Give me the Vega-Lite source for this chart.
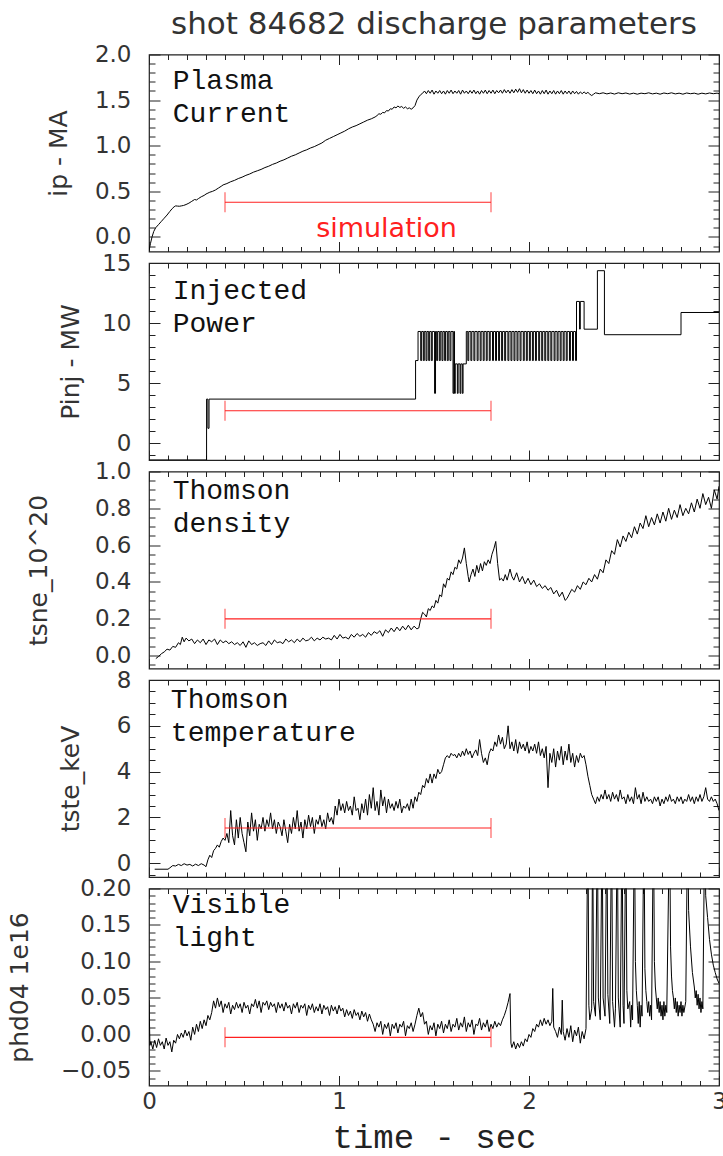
{
  "$schema": "https://vega.github.io/schema/vega-lite/v6.json",
  "background": "white",
  "padding": {"left": 6, "top": 7.5, "right": 0, "bottom": 0},
  "bounds": "flush",
  "spacing": 11.5,
  "config": {
    "view": {"stroke": "#222", "strokeWidth": 1.2},
    "axis": {
      "domain": false, "grid": false, "ticks": true, "tickColor": "#222", "tickWidth": 1,
      "labelFont": "DejaVu Sans", "labelFontSize": 23, "labelColor": "#333",
      "labelOverlap": false, "labelFlush": false, "labelBound": false, "labelPadding": 29,
      "titleFont": "DejaVu Sans", "titleFontSize": 25, "titleFontWeight": "normal", "titleColor": "#333"
    }
  },
  "datasets": {
    "ip": [
      {"t":0,"v":-0.15},{"t":0.008,"v":-0.07},{"t":0.016,"v":0.0},{"t":0.025,"v":0.06},{"t":0.035,"v":0.1},{"t":0.05,"v":0.135},{"t":0.065,"v":0.17},{"t":0.08,"v":0.205},{"t":0.095,"v":0.24},{"t":0.11,"v":0.28},{"t":0.122,"v":0.31},{"t":0.132,"v":0.33},{"t":0.14,"v":0.34},{"t":0.15,"v":0.338},{"t":0.16,"v":0.336},{"t":0.17,"v":0.34},{"t":0.182,"v":0.345},{"t":0.195,"v":0.355},{"t":0.21,"v":0.37},{"t":0.225,"v":0.39},{"t":0.24,"v":0.41},{"t":0.25,"v":0.405},{"t":0.26,"v":0.42},{"t":0.275,"v":0.44},{"t":0.29,"v":0.455},{"t":0.3,"v":0.47},{"t":0.31,"v":0.48},{"t":0.32,"v":0.49},{"t":0.335,"v":0.5},{"t":0.35,"v":0.515},{"t":0.365,"v":0.535},{"t":0.38,"v":0.555},{"t":0.39,"v":0.57},{"t":0.41,"v":0.585},{"t":0.43,"v":0.605},{"t":0.45,"v":0.62},{"t":0.47,"v":0.64},{"t":0.49,"v":0.655},{"t":0.51,"v":0.675},{"t":0.53,"v":0.69},{"t":0.55,"v":0.71},{"t":0.57,"v":0.725},{"t":0.59,"v":0.74},{"t":0.61,"v":0.76},{"t":0.63,"v":0.775},{"t":0.65,"v":0.795},{"t":0.67,"v":0.81},{"t":0.69,"v":0.83},{"t":0.71,"v":0.845},{"t":0.73,"v":0.865},{"t":0.75,"v":0.885},{"t":0.77,"v":0.9},{"t":0.79,"v":0.92},{"t":0.81,"v":0.94},{"t":0.83,"v":0.955},{"t":0.85,"v":0.975},{"t":0.87,"v":0.99},{"t":0.89,"v":1.01},{"t":0.91,"v":1.03},{"t":0.93,"v":1.06},{"t":0.95,"v":1.08},{"t":0.97,"v":1.1},{"t":0.99,"v":1.12},{"t":1.01,"v":1.14},{"t":1.03,"v":1.16},{"t":1.05,"v":1.185},{"t":1.07,"v":1.205},{"t":1.09,"v":1.22},{"t":1.11,"v":1.24},{"t":1.13,"v":1.26},{"t":1.15,"v":1.28},{"t":1.17,"v":1.295},{"t":1.19,"v":1.315},{"t":1.2,"v":1.33},{"t":1.21,"v":1.35},{"t":1.22,"v":1.345},{"t":1.23,"v":1.365},{"t":1.24,"v":1.36},{"t":1.25,"v":1.385},{"t":1.26,"v":1.38},{"t":1.27,"v":1.405},{"t":1.28,"v":1.4},{"t":1.29,"v":1.425},{"t":1.3,"v":1.415},{"t":1.31,"v":1.435},{"t":1.32,"v":1.42},{"t":1.33,"v":1.43},{"t":1.34,"v":1.41},{"t":1.35,"v":1.425},{"t":1.36,"v":1.405},{"t":1.37,"v":1.415},{"t":1.38,"v":1.4},{"t":1.39,"v":1.415},{"t":1.4,"v":1.44},{"t":1.41,"v":1.5},{"t":1.42,"v":1.535},{"t":1.43,"v":1.56},{"t":1.44,"v":1.575},
      {"t":1.45,"v":1.6},{"t":1.46,"v":1.57},{"t":1.47,"v":1.605},{"t":1.48,"v":1.575},{"t":1.49,"v":1.61},{"t":1.5,"v":1.565},{"t":1.51,"v":1.6},{"t":1.52,"v":1.575},{"t":1.53,"v":1.605},{"t":1.54,"v":1.57},{"t":1.55,"v":1.6},{"t":1.56,"v":1.565},{"t":1.57,"v":1.605},{"t":1.58,"v":1.575},{"t":1.59,"v":1.61},{"t":1.6,"v":1.57},{"t":1.61,"v":1.6},{"t":1.62,"v":1.575},{"t":1.63,"v":1.605},{"t":1.64,"v":1.565},{"t":1.65,"v":1.61},{"t":1.66,"v":1.575},{"t":1.67,"v":1.6},{"t":1.68,"v":1.57},{"t":1.69,"v":1.605},{"t":1.7,"v":1.575},{"t":1.71,"v":1.61},{"t":1.72,"v":1.57},{"t":1.73,"v":1.6},{"t":1.74,"v":1.565},{"t":1.75,"v":1.605},{"t":1.76,"v":1.575},{"t":1.77,"v":1.61},{"t":1.78,"v":1.57},{"t":1.79,"v":1.605},{"t":1.8,"v":1.575},{"t":1.81,"v":1.61},{"t":1.82,"v":1.57},{"t":1.83,"v":1.605},{"t":1.84,"v":1.58},{"t":1.85,"v":1.61},{"t":1.86,"v":1.575},{"t":1.87,"v":1.615},{"t":1.88,"v":1.58},{"t":1.89,"v":1.61},{"t":1.9,"v":1.575},{"t":1.91,"v":1.615},{"t":1.92,"v":1.58},{"t":1.93,"v":1.62},{"t":1.94,"v":1.585},{"t":1.95,"v":1.625},{"t":1.96,"v":1.58},{"t":1.97,"v":1.615},{"t":1.98,"v":1.575},{"t":1.99,"v":1.61},{"t":2.0,"v":1.575},{"t":2.01,"v":1.605},{"t":2.02,"v":1.57},{"t":2.03,"v":1.61},{"t":2.04,"v":1.57},{"t":2.05,"v":1.6},{"t":2.06,"v":1.565},{"t":2.07,"v":1.605},{"t":2.08,"v":1.57},{"t":2.09,"v":1.61},{"t":2.1,"v":1.565},{"t":2.11,"v":1.6},{"t":2.12,"v":1.57},{"t":2.13,"v":1.605},{"t":2.14,"v":1.565},{"t":2.15,"v":1.6},{"t":2.16,"v":1.57},{"t":2.17,"v":1.605},{"t":2.18,"v":1.565},{"t":2.19,"v":1.6},{"t":2.2,"v":1.57},{"t":2.21,"v":1.6},{"t":2.22,"v":1.565},{"t":2.23,"v":1.6},{"t":2.24,"v":1.57},{"t":2.25,"v":1.595},{"t":2.26,"v":1.565},{"t":2.27,"v":1.59},{"t":2.28,"v":1.57},{"t":2.29,"v":1.59},{"t":2.3,"v":1.57},{"t":2.31,"v":1.585},{"t":2.32,"v":1.565},{"t":2.33,"v":1.55},{"t":2.34,"v":1.565},{"t":2.35,"v":1.58},
      {"t":2.37,"v":1.57},{"t":2.39,"v":1.58},{"t":2.41,"v":1.568},{"t":2.43,"v":1.578},{"t":2.45,"v":1.566},{"t":2.47,"v":1.58},{"t":2.49,"v":1.57},{"t":2.51,"v":1.578},{"t":2.53,"v":1.566},{"t":2.55,"v":1.576},{"t":2.57,"v":1.565},{"t":2.59,"v":1.576},{"t":2.61,"v":1.57},{"t":2.63,"v":1.58},{"t":2.65,"v":1.568},{"t":2.67,"v":1.576},{"t":2.69,"v":1.565},{"t":2.71,"v":1.578},{"t":2.73,"v":1.57},{"t":2.75,"v":1.58},{"t":2.77,"v":1.568},{"t":2.79,"v":1.576},{"t":2.81,"v":1.565},{"t":2.83,"v":1.578},{"t":2.85,"v":1.57},{"t":2.87,"v":1.576},{"t":2.89,"v":1.565},{"t":2.91,"v":1.576},{"t":2.93,"v":1.568},{"t":2.95,"v":1.578},{"t":2.97,"v":1.57},{"t":2.99,"v":1.576},{"t":3.0,"v":1.57}
    ],
    "pinj": [
      {"t":0,"v":-1.4},{"t":0.303,"v":3.67},{"t":0.31,"v":1.24},{"t":0.316,"v":3.67},{"t":1.403,"v":6.88},{"t":1.416,"v":9.3},
      {"t":1.43,"v":6.88},{"t":1.435,"v":9.3},{"t":1.444,"v":6.88},{"t":1.449,"v":9.3},{"t":1.458,"v":6.88},{"t":1.463,"v":9.3},{"t":1.472,"v":6.88},{"t":1.477,"v":9.3},{"t":1.486,"v":6.88},{"t":1.491,"v":9.3},{"t":1.503,"v":4.15},{"t":1.508,"v":9.3},
      {"t":1.514,"v":6.88},{"t":1.519,"v":9.3},{"t":1.528,"v":6.88},{"t":1.533,"v":9.3},{"t":1.542,"v":6.88},{"t":1.547,"v":9.3},{"t":1.556,"v":6.88},{"t":1.561,"v":9.3},{"t":1.57,"v":6.88},{"t":1.575,"v":9.3},{"t":1.584,"v":6.88},{"t":1.589,"v":9.3},
      {"t":1.6,"v":4.15},{"t":1.604,"v":9.3},{"t":1.608,"v":4.15},{"t":1.612,"v":6.6},{"t":1.623,"v":4.15},{"t":1.627,"v":6.6},{"t":1.637,"v":4.15},{"t":1.641,"v":6.6},{"t":1.649,"v":4.15},{"t":1.653,"v":6.6},{"t":1.67,"v":9.3},
      {"t":1.678,"v":6.88},{"t":1.683,"v":9.3},{"t":1.694,"v":6.88},{"t":1.699,"v":9.3},{"t":1.71,"v":6.88},{"t":1.715,"v":9.3},{"t":1.727,"v":6.88},{"t":1.732,"v":9.3},{"t":1.743,"v":6.88},{"t":1.748,"v":9.3},{"t":1.759,"v":6.88},{"t":1.764,"v":9.3},{"t":1.775,"v":6.88},{"t":1.78,"v":9.3},{"t":1.791,"v":6.88},{"t":1.796,"v":9.3},{"t":1.808,"v":6.88},{"t":1.813,"v":9.3},{"t":1.824,"v":6.88},{"t":1.829,"v":9.3},{"t":1.84,"v":6.88},{"t":1.845,"v":9.3},{"t":1.856,"v":6.88},{"t":1.861,"v":9.3},{"t":1.872,"v":6.88},{"t":1.877,"v":9.3},{"t":1.889,"v":6.88},{"t":1.894,"v":9.3},{"t":1.905,"v":6.88},{"t":1.91,"v":9.3},{"t":1.921,"v":6.88},{"t":1.926,"v":9.3},{"t":1.937,"v":6.88},{"t":1.942,"v":9.3},{"t":1.953,"v":6.88},{"t":1.958,"v":9.3},{"t":1.97,"v":6.88},{"t":1.975,"v":9.3},{"t":1.986,"v":6.88},{"t":1.991,"v":9.3},{"t":2.002,"v":6.88},{"t":2.007,"v":9.3},{"t":2.018,"v":6.88},{"t":2.023,"v":9.3},{"t":2.034,"v":6.88},{"t":2.039,"v":9.3},{"t":2.051,"v":6.88},{"t":2.056,"v":9.3},{"t":2.067,"v":6.88},{"t":2.072,"v":9.3},{"t":2.083,"v":6.88},{"t":2.088,"v":9.3},{"t":2.099,"v":6.88},{"t":2.104,"v":9.3},{"t":2.115,"v":6.88},{"t":2.12,"v":9.3},{"t":2.132,"v":6.88},{"t":2.137,"v":9.3},{"t":2.148,"v":6.88},{"t":2.153,"v":9.3},{"t":2.164,"v":6.88},{"t":2.169,"v":9.3},{"t":2.18,"v":6.88},{"t":2.185,"v":9.3},{"t":2.196,"v":6.88},{"t":2.201,"v":9.3},{"t":2.213,"v":6.88},{"t":2.218,"v":9.3},{"t":2.229,"v":6.88},{"t":2.234,"v":9.3},{"t":2.245,"v":6.88},{"t":2.25,"v":11.8},
      {"t":2.266,"v":9.5},{"t":2.27,"v":11.8},{"t":2.29,"v":9.49},{"t":2.36,"v":14.36},{"t":2.397,"v":9.03},{"t":2.8,"v":10.88},{"t":3.0,"v":10.88}
    ],
    "ne": [
      {"t":0.036,"v":-0.016},{"t":0.05,"v":-0.005},{"t":0.065,"v":0.01},{"t":0.08,"v":0.02},{"t":0.095,"v":0.035},{"t":0.11,"v":0.03},{"t":0.125,"v":0.05},{"t":0.14,"v":0.045},{"t":0.155,"v":0.07},{"t":0.165,"v":0.06},{"t":0.175,"v":0.1},{"t":0.185,"v":0.075},{"t":0.195,"v":0.095},{"t":0.21,"v":0.08},{"t":0.225,"v":0.09},{"t":0.24,"v":0.065},{"t":0.255,"v":0.085},{"t":0.27,"v":0.07},{"t":0.285,"v":0.09},{"t":0.3,"v":0.06},{"t":0.315,"v":0.085},{"t":0.33,"v":0.075},{"t":0.345,"v":0.09},{"t":0.36,"v":0.06},{"t":0.375,"v":0.085},{"t":0.39,"v":0.07},{"t":0.405,"v":0.08},{"t":0.42,"v":0.065},{"t":0.435,"v":0.075},{"t":0.45,"v":0.06},{"t":0.465,"v":0.07},{"t":0.48,"v":0.055},{"t":0.495,"v":0.075},{"t":0.51,"v":0.045},{"t":0.525,"v":0.08},{"t":0.54,"v":0.06},{"t":0.555,"v":0.07},{"t":0.57,"v":0.055},{"t":0.585,"v":0.065},{"t":0.6,"v":0.07},{"t":0.615,"v":0.055},{"t":0.63,"v":0.08},{"t":0.645,"v":0.06},{"t":0.66,"v":0.085},{"t":0.675,"v":0.07},{"t":0.69,"v":0.075},{"t":0.705,"v":0.065},{"t":0.72,"v":0.09},{"t":0.735,"v":0.075},{"t":0.75,"v":0.085},{"t":0.765,"v":0.07},{"t":0.78,"v":0.09},{"t":0.795,"v":0.075},{"t":0.81,"v":0.095},{"t":0.825,"v":0.08},{"t":0.84,"v":0.085},{"t":0.855,"v":0.1},{"t":0.87,"v":0.08},{"t":0.885,"v":0.095},{"t":0.9,"v":0.085},{"t":0.915,"v":0.1},{"t":0.93,"v":0.09},{"t":0.945,"v":0.095},{"t":0.96,"v":0.085},{"t":0.975,"v":0.11},{"t":0.99,"v":0.09},{"t":1.005,"v":0.115},{"t":1.02,"v":0.095},{"t":1.035,"v":0.1},{"t":1.05,"v":0.09},{"t":1.065,"v":0.115},{"t":1.08,"v":0.1},{"t":1.095,"v":0.12},{"t":1.11,"v":0.105},{"t":1.125,"v":0.115},{"t":1.14,"v":0.1},{"t":1.155,"v":0.125},{"t":1.17,"v":0.11},{"t":1.185,"v":0.13},{"t":1.2,"v":0.12},{"t":1.215,"v":0.135},{"t":1.23,"v":0.105},{"t":1.245,"v":0.14},{"t":1.26,"v":0.125},{"t":1.275,"v":0.15},{"t":1.29,"v":0.13},{"t":1.305,"v":0.155},{"t":1.32,"v":0.135},{"t":1.335,"v":0.16},{"t":1.35,"v":0.14},{"t":1.365,"v":0.165},{"t":1.38,"v":0.14},{"t":1.395,"v":0.16},{"t":1.41,"v":0.145},{"t":1.42,"v":0.15},
      {"t":1.43,"v":0.2},{"t":1.44,"v":0.235},{"t":1.45,"v":0.225},{"t":1.46,"v":0.21},{"t":1.47,"v":0.255},{"t":1.48,"v":0.245},{"t":1.49,"v":0.27},{"t":1.5,"v":0.26},{"t":1.51,"v":0.3},{"t":1.52,"v":0.285},{"t":1.53,"v":0.33},{"t":1.54,"v":0.32},{"t":1.55,"v":0.39},{"t":1.56,"v":0.37},{"t":1.57,"v":0.42},{"t":1.58,"v":0.41},{"t":1.59,"v":0.455},{"t":1.6,"v":0.44},{"t":1.61,"v":0.48},{"t":1.62,"v":0.47},{"t":1.63,"v":0.52},{"t":1.64,"v":0.5},{"t":1.65,"v":0.53},{"t":1.66,"v":0.585},{"t":1.67,"v":0.5},{"t":1.68,"v":0.43},{"t":1.685,"v":0.4},{"t":1.695,"v":0.44},{"t":1.705,"v":0.47},{"t":1.715,"v":0.43},{"t":1.725,"v":0.49},{"t":1.735,"v":0.45},{"t":1.745,"v":0.5},{"t":1.755,"v":0.46},{"t":1.765,"v":0.51},{"t":1.775,"v":0.49},{"t":1.785,"v":0.52},{"t":1.795,"v":0.5},{"t":1.805,"v":0.55},{"t":1.815,"v":0.58},{"t":1.825,"v":0.62},{"t":1.835,"v":0.5},{"t":1.845,"v":0.41},{"t":1.855,"v":0.42},{"t":1.865,"v":0.405},{"t":1.875,"v":0.44},{"t":1.885,"v":0.41},{"t":1.9,"v":0.47},{"t":1.91,"v":0.43},{"t":1.92,"v":0.41},{"t":1.935,"v":0.45},{"t":1.95,"v":0.4},{"t":1.965,"v":0.43},{"t":1.98,"v":0.39},{"t":1.995,"v":0.42},{"t":2.01,"v":0.385},{"t":2.025,"v":0.41},{"t":2.04,"v":0.375},{"t":2.055,"v":0.39},{"t":2.07,"v":0.365},{"t":2.085,"v":0.38},{"t":2.1,"v":0.355},{"t":2.115,"v":0.37},{"t":2.13,"v":0.335},{"t":2.145,"v":0.355},{"t":2.16,"v":0.32},{"t":2.175,"v":0.345},{"t":2.19,"v":0.3},{"t":2.2,"v":0.31},{"t":2.21,"v":0.33},{"t":2.225,"v":0.36},{"t":2.24,"v":0.345},{"t":2.255,"v":0.38},{"t":2.27,"v":0.36},{"t":2.285,"v":0.4},{"t":2.3,"v":0.385},{"t":2.315,"v":0.42},{"t":2.33,"v":0.4},{"t":2.345,"v":0.44},{"t":2.36,"v":0.415},{"t":2.375,"v":0.47},{"t":2.39,"v":0.45},{"t":2.405,"v":0.52},{"t":2.42,"v":0.5},{"t":2.435,"v":0.57},{"t":2.45,"v":0.55},{"t":2.465,"v":0.63},{"t":2.48,"v":0.59},{"t":2.495,"v":0.65},{"t":2.51,"v":0.62},{"t":2.525,"v":0.67},{"t":2.54,"v":0.64},{"t":2.555,"v":0.7},{"t":2.57,"v":0.66},{"t":2.585,"v":0.72},{"t":2.6,"v":0.69},{"t":2.615,"v":0.76},{"t":2.63,"v":0.7},{"t":2.645,"v":0.75},{"t":2.66,"v":0.71},{"t":2.675,"v":0.77},{"t":2.69,"v":0.72},{"t":2.705,"v":0.78},{"t":2.72,"v":0.73},{"t":2.735,"v":0.8},{"t":2.75,"v":0.74},{"t":2.765,"v":0.79},{"t":2.78,"v":0.75},{"t":2.795,"v":0.82},{"t":2.81,"v":0.76},{"t":2.825,"v":0.8},{"t":2.84,"v":0.77},{"t":2.855,"v":0.83},{"t":2.87,"v":0.78},{"t":2.885,"v":0.85},{"t":2.9,"v":0.8},{"t":2.915,"v":0.88},{"t":2.93,"v":0.82},{"t":2.945,"v":0.86},{"t":2.96,"v":0.8},{"t":2.975,"v":0.9},{"t":2.99,"v":0.85},{"t":3.0,"v":0.92}
    ],
    "te": [
      {"t":0.03,"v":-0.26},{"t":0.1,"v":-0.26},{"t":0.11,"v":-0.2},{"t":0.125,"v":-0.1},{"t":0.14,"v":-0.12},{"t":0.155,"v":-0.05},{"t":0.17,"v":-0.1},{"t":0.185,"v":-0.02},{"t":0.2,"v":-0.08},{"t":0.215,"v":-0.05},{"t":0.23,"v":-0.12},{"t":0.245,"v":-0.04},{"t":0.26,"v":-0.1},{"t":0.275,"v":-0.02},{"t":0.29,"v":-0.08},{"t":0.3,"v":-0.15},{"t":0.31,"v":0.15},{"t":0.32,"v":0.35},{"t":0.33,"v":0.25},{"t":0.34,"v":0.55},{"t":0.35,"v":0.65},{"t":0.36,"v":0.8},{"t":0.37,"v":0.7},{"t":0.38,"v":0.95},{"t":0.39,"v":1.1},{"t":0.4,"v":1.0},{"t":0.41,"v":1.3},{"t":0.42,"v":0.9},{"t":0.43,"v":2.3},{"t":0.44,"v":1.2},{"t":0.45,"v":0.8},{"t":0.46,"v":1.9},{"t":0.47,"v":1.1},{"t":0.48,"v":2.0},{"t":0.49,"v":1.3},{"t":0.5,"v":0.9},{"t":0.51,"v":0.5},{"t":0.52,"v":1.8},{"t":0.53,"v":1.2},{"t":0.54,"v":2.2},{"t":0.55,"v":1.4},{"t":0.56,"v":1.9},{"t":0.57,"v":1.0},{"t":0.58,"v":1.7},{"t":0.59,"v":1.5},{"t":0.6,"v":2.0},{"t":0.61,"v":1.4},{"t":0.62,"v":1.9},{"t":0.63,"v":1.6},{"t":0.64,"v":2.2},{"t":0.65,"v":1.5},{"t":0.66,"v":1.9},{"t":0.67,"v":1.3},{"t":0.68,"v":1.8},{"t":0.69,"v":1.6},{"t":0.7,"v":1.2},{"t":0.71,"v":1.9},{"t":0.72,"v":1.4},{"t":0.73,"v":0.9},{"t":0.74,"v":1.7},{"t":0.75,"v":1.3},{"t":0.76,"v":2.0},{"t":0.77,"v":1.5},{"t":0.78,"v":2.3},{"t":0.79,"v":1.4},{"t":0.8,"v":1.8},{"t":0.81,"v":1.1},{"t":0.82,"v":1.9},{"t":0.83,"v":1.5},{"t":0.84,"v":2.1},{"t":0.85,"v":1.6},{"t":0.86,"v":2.0},{"t":0.87,"v":1.3},{"t":0.88,"v":1.9},{"t":0.89,"v":1.7},{"t":0.9,"v":2.1},{"t":0.91,"v":1.6},{"t":0.92,"v":1.9},{"t":0.93,"v":1.5},{"t":0.94,"v":2.2},{"t":0.95,"v":1.8},{"t":0.96,"v":2.0},{"t":0.97,"v":1.7},{"t":0.98,"v":2.5},{"t":0.99,"v":2.1},{"t":1.0,"v":2.8},{"t":1.01,"v":2.3},{"t":1.02,"v":2.6},{"t":1.03,"v":2.2},{"t":1.04,"v":2.7},{"t":1.05,"v":2.3},{"t":1.06,"v":2.5},{"t":1.07,"v":2.1},{"t":1.08,"v":2.9},{"t":1.09,"v":2.3},{"t":1.1,"v":2.4},{"t":1.11,"v":1.9},{"t":1.12,"v":2.6},{"t":1.13,"v":2.2},{"t":1.14,"v":2.8},{"t":1.15,"v":2.1},{"t":1.16,"v":3.0},{"t":1.17,"v":2.4},{"t":1.18,"v":3.3},{"t":1.19,"v":2.3},{"t":1.2,"v":2.7},{"t":1.21,"v":2.1},{"t":1.22,"v":3.2},{"t":1.23,"v":2.5},{"t":1.24,"v":2.9},{"t":1.25,"v":2.2},{"t":1.26,"v":2.8},{"t":1.27,"v":2.4},{"t":1.28,"v":2.6},{"t":1.29,"v":2.3},{"t":1.3,"v":2.7},{"t":1.31,"v":2.4},{"t":1.32,"v":2.8},{"t":1.33,"v":2.2},{"t":1.34,"v":2.5},{"t":1.35,"v":2.4},{"t":1.36,"v":2.6},{"t":1.37,"v":2.3},{"t":1.38,"v":2.8},{"t":1.39,"v":2.4},{"t":1.4,"v":2.9},{"t":1.41,"v":2.7},{"t":1.42,"v":3.1},{"t":1.43,"v":3.0},{"t":1.44,"v":3.4},{"t":1.45,"v":3.3},{"t":1.46,"v":3.7},{"t":1.47,"v":3.5},{"t":1.48,"v":3.9},{"t":1.49,"v":3.5},{"t":1.5,"v":3.9},{"t":1.51,"v":3.7},{"t":1.52,"v":4.1},{"t":1.53,"v":3.9},{"t":1.54,"v":4.0},{"t":1.55,"v":4.3},{"t":1.56,"v":4.6},{"t":1.57,"v":4.7},{"t":1.58,"v":4.6},{"t":1.59,"v":4.8},{"t":1.6,"v":4.7},{"t":1.61,"v":4.75},{"t":1.62,"v":4.6},{"t":1.63,"v":4.8},{"t":1.64,"v":4.65},{"t":1.65,"v":4.9},{"t":1.66,"v":4.7},{"t":1.67,"v":5.0},{"t":1.68,"v":4.75},{"t":1.69,"v":4.9},{"t":1.7,"v":4.6},{"t":1.71,"v":4.8},{"t":1.72,"v":4.95},{"t":1.73,"v":4.7},{"t":1.74,"v":5.4},{"t":1.75,"v":4.8},{"t":1.76,"v":4.4},{"t":1.77,"v":4.6},{"t":1.78,"v":4.3},{"t":1.79,"v":4.8},{"t":1.8,"v":5.0},{"t":1.81,"v":4.9},{"t":1.82,"v":5.3},{"t":1.83,"v":5.1},{"t":1.84,"v":5.6},{"t":1.85,"v":5.2},{"t":1.86,"v":5.5},{"t":1.87,"v":5.0},{"t":1.88,"v":5.2},{"t":1.89,"v":6.0},{"t":1.9,"v":5.0},{"t":1.91,"v":5.3},{"t":1.92,"v":4.9},{"t":1.93,"v":5.4},{"t":1.94,"v":4.8},{"t":1.95,"v":5.3},{"t":1.96,"v":5.0},{"t":1.97,"v":5.2},{"t":1.98,"v":4.9},{"t":1.99,"v":5.3},{"t":2.0,"v":4.8},{"t":2.01,"v":5.1},{"t":2.02,"v":4.9},{"t":2.03,"v":5.2},{"t":2.04,"v":4.8},{"t":2.05,"v":5.3},{"t":2.06,"v":4.7},{"t":2.07,"v":5.0},{"t":2.08,"v":4.6},{"t":2.09,"v":5.1},{"t":2.1,"v":3.3},{"t":2.11,"v":4.8},{"t":2.12,"v":4.4},{"t":2.13,"v":5.0},{"t":2.14,"v":4.2},{"t":2.15,"v":4.9},{"t":2.16,"v":4.5},{"t":2.17,"v":5.1},{"t":2.18,"v":4.3},{"t":2.19,"v":4.9},{"t":2.2,"v":4.5},{"t":2.21,"v":5.2},{"t":2.22,"v":4.4},{"t":2.23,"v":4.8},{"t":2.24,"v":4.2},{"t":2.25,"v":4.7},{"t":2.26,"v":4.4},{"t":2.27,"v":4.8},{"t":2.28,"v":4.6},{"t":2.29,"v":4.7},{"t":2.3,"v":4.3},{"t":2.31,"v":3.8},{"t":2.32,"v":3.4},{"t":2.33,"v":3.0},{"t":2.34,"v":2.8},{"t":2.35,"v":2.6},{"t":2.36,"v":2.9},{"t":2.37,"v":2.7},{"t":2.38,"v":3.0},{"t":2.39,"v":2.8},{"t":2.4,"v":3.2},{"t":2.41,"v":2.8},{"t":2.42,"v":3.0},{"t":2.43,"v":2.7},{"t":2.44,"v":3.1},{"t":2.45,"v":2.8},{"t":2.46,"v":3.0},{"t":2.47,"v":2.7},{"t":2.48,"v":3.2},{"t":2.49,"v":2.8},{"t":2.5,"v":2.9},{"t":2.51,"v":2.6},{"t":2.52,"v":3.0},{"t":2.53,"v":2.7},{"t":2.54,"v":2.9},{"t":2.55,"v":2.6},{"t":2.56,"v":3.3},{"t":2.57,"v":2.8},{"t":2.58,"v":3.0},{"t":2.59,"v":2.6},{"t":2.6,"v":3.1},{"t":2.61,"v":2.7},{"t":2.62,"v":2.9},{"t":2.63,"v":2.7},{"t":2.64,"v":2.8},{"t":2.65,"v":2.6},{"t":2.66,"v":2.9},{"t":2.67,"v":2.7},{"t":2.68,"v":2.9},{"t":2.69,"v":2.5},{"t":2.7,"v":2.8},{"t":2.71,"v":2.6},{"t":2.72,"v":2.9},{"t":2.73,"v":2.7},{"t":2.74,"v":3.0},{"t":2.75,"v":2.7},{"t":2.76,"v":2.8},{"t":2.77,"v":2.6},{"t":2.78,"v":2.9},{"t":2.79,"v":2.7},{"t":2.8,"v":2.9},{"t":2.81,"v":2.6},{"t":2.82,"v":2.8},{"t":2.83,"v":2.7},{"t":2.84,"v":3.0},{"t":2.85,"v":2.7},{"t":2.86,"v":2.9},{"t":2.87,"v":2.6},{"t":2.88,"v":2.9},{"t":2.89,"v":2.7},{"t":2.9,"v":3.0},{"t":2.91,"v":2.7},{"t":2.92,"v":2.9},{"t":2.93,"v":3.3},{"t":2.94,"v":2.8},{"t":2.95,"v":2.7},{"t":2.96,"v":2.9},{"t":2.97,"v":2.7},{"t":2.98,"v":2.8},{"t":2.99,"v":2.6},{"t":3.0,"v":2.3}
    ],
    "vis": [
      {"t":0,"v":0.047},{"t":0.005,"v":-0.015},{"t":0.01,"v":-0.01},{"t":0.02,"v":-0.02},{"t":0.03,"v":-0.008},{"t":0.04,"v":-0.018},{"t":0.05,"v":-0.006},{"t":0.06,"v":-0.015},{"t":0.07,"v":-0.01},{"t":0.08,"v":-0.02},{"t":0.09,"v":-0.005},{"t":0.1,"v":-0.015},{"t":0.11,"v":-0.01},{"t":0.12,"v":-0.024},{"t":0.13,"v":-0.008},{"t":0.14,"v":-0.012},{"t":0.15,"v":0.0},{"t":0.16,"v":-0.006},{"t":0.17,"v":0.002},{"t":0.18,"v":-0.004},{"t":0.19,"v":0.006},{"t":0.2,"v":-0.002},{"t":0.21,"v":0.004},{"t":0.22,"v":-0.008},{"t":0.23,"v":0.01},{"t":0.24,"v":0.0},{"t":0.25,"v":0.014},{"t":0.26,"v":0.004},{"t":0.27,"v":0.018},{"t":0.28,"v":0.008},{"t":0.29,"v":0.02},{"t":0.3,"v":0.012},{"t":0.31,"v":0.026},{"t":0.32,"v":0.02},{"t":0.33,"v":0.03},{"t":0.34,"v":0.046},{"t":0.35,"v":0.036},{"t":0.36,"v":0.05},{"t":0.37,"v":0.038},{"t":0.38,"v":0.046},{"t":0.39,"v":0.03},{"t":0.4,"v":0.042},{"t":0.41,"v":0.036},{"t":0.42,"v":0.044},{"t":0.43,"v":0.028},{"t":0.44,"v":0.04},{"t":0.45,"v":0.034},{"t":0.46,"v":0.044},{"t":0.47,"v":0.036},{"t":0.48,"v":0.042},{"t":0.49,"v":0.03},{"t":0.5,"v":0.044},{"t":0.51,"v":0.036},{"t":0.52,"v":0.04},{"t":0.53,"v":0.028},{"t":0.54,"v":0.042},{"t":0.55,"v":0.038},{"t":0.56,"v":0.048},{"t":0.57,"v":0.036},{"t":0.58,"v":0.046},{"t":0.59,"v":0.03},{"t":0.6,"v":0.044},{"t":0.61,"v":0.04},{"t":0.62,"v":0.046},{"t":0.63,"v":0.034},{"t":0.64,"v":0.044},{"t":0.65,"v":0.038},{"t":0.66,"v":0.042},{"t":0.67,"v":0.03},{"t":0.68,"v":0.044},{"t":0.69,"v":0.036},{"t":0.7,"v":0.042},{"t":0.71,"v":0.032},{"t":0.72,"v":0.044},{"t":0.73,"v":0.036},{"t":0.74,"v":0.04},{"t":0.75,"v":0.028},{"t":0.76,"v":0.042},{"t":0.77,"v":0.036},{"t":0.78,"v":0.044},{"t":0.79,"v":0.03},{"t":0.8,"v":0.04},{"t":0.81,"v":0.036},{"t":0.82,"v":0.042},{"t":0.83,"v":0.026},{"t":0.84,"v":0.04},{"t":0.85,"v":0.034},{"t":0.86,"v":0.042},{"t":0.87,"v":0.03},{"t":0.88,"v":0.038},{"t":0.89,"v":0.032},{"t":0.9,"v":0.042},{"t":0.91,"v":0.028},{"t":0.92,"v":0.04},{"t":0.93,"v":0.034},{"t":0.94,"v":0.038},{"t":0.95,"v":0.026},{"t":0.96,"v":0.04},{"t":0.97,"v":0.032},{"t":0.98,"v":0.038},{"t":0.99,"v":0.028},{"t":1.0,"v":0.04},{"t":1.01,"v":0.032},{"t":1.02,"v":0.036},{"t":1.03,"v":0.024},{"t":1.04,"v":0.034},{"t":1.05,"v":0.026},{"t":1.06,"v":0.032},{"t":1.07,"v":0.022},{"t":1.08,"v":0.034},{"t":1.09,"v":0.026},{"t":1.1,"v":0.03},{"t":1.11,"v":0.02},{"t":1.12,"v":0.032},{"t":1.13,"v":0.024},{"t":1.14,"v":0.03},{"t":1.15,"v":0.018},{"t":1.16,"v":0.028},{"t":1.17,"v":0.02},{"t":1.18,"v":0.014},{"t":1.19,"v":0.004},{"t":1.2,"v":0.016},{"t":1.21,"v":0.01},{"t":1.22,"v":0.018},{"t":1.23,"v":0.0},{"t":1.24,"v":0.014},{"t":1.25,"v":0.008},{"t":1.26,"v":0.016},{"t":1.27,"v":-0.002},{"t":1.28,"v":0.014},{"t":1.29,"v":0.008},{"t":1.3,"v":0.016},{"t":1.31,"v":0.002},{"t":1.32,"v":0.014},{"t":1.33,"v":0.01},{"t":1.34,"v":0.018},{"t":1.35,"v":-0.002},{"t":1.36,"v":0.012},{"t":1.37,"v":0.008},{"t":1.38,"v":0.016},{"t":1.39,"v":0.004},{"t":1.4,"v":0.014},{"t":1.41,"v":0.026},{"t":1.42,"v":0.036},{"t":1.43,"v":0.024},{"t":1.44,"v":0.03},{"t":1.45,"v":0.014},{"t":1.46,"v":0.018},{"t":1.47,"v":0.0},{"t":1.48,"v":0.012},{"t":1.49,"v":0.006},{"t":1.5,"v":0.016},{"t":1.51,"v":-0.002},{"t":1.52,"v":0.014},{"t":1.53,"v":0.008},{"t":1.54,"v":0.018},{"t":1.55,"v":0.002},{"t":1.56,"v":0.014},{"t":1.57,"v":0.008},{"t":1.58,"v":0.02},{"t":1.59,"v":0.004},{"t":1.6,"v":0.014},{"t":1.61,"v":0.01},{"t":1.62,"v":0.022},{"t":1.63,"v":0.006},{"t":1.64,"v":0.016},{"t":1.65,"v":0.01},{"t":1.66,"v":0.024},{"t":1.67,"v":0.004},{"t":1.68,"v":0.016},{"t":1.69,"v":0.01},{"t":1.7,"v":0.02},{"t":1.71,"v":0.0},{"t":1.72,"v":0.014},{"t":1.73,"v":0.012},{"t":1.74,"v":0.022},{"t":1.75,"v":0.006},{"t":1.76,"v":0.016},{"t":1.77,"v":0.01},{"t":1.78,"v":0.02},{"t":1.79,"v":0.004},{"t":1.8,"v":0.014},{"t":1.81,"v":0.008},{"t":1.82,"v":0.018},{"t":1.83,"v":0.01},{"t":1.84,"v":0.016},{"t":1.85,"v":0.012},{"t":1.86,"v":0.02},{"t":1.87,"v":0.026},{"t":1.88,"v":0.034},{"t":1.89,"v":0.044},{"t":1.9,"v":0.056},{"t":1.905,"v":-0.012},{"t":1.91,"v":-0.018},{"t":1.92,"v":-0.01},{"t":1.93,"v":-0.02},{"t":1.94,"v":-0.012},{"t":1.95,"v":-0.018},{"t":1.96,"v":-0.01},{"t":1.97,"v":-0.016},{"t":1.98,"v":-0.006},{"t":1.99,"v":-0.01},{"t":2.0,"v":0.0},{"t":2.01,"v":-0.004},{"t":2.02,"v":0.008},{"t":2.03,"v":0.004},{"t":2.04,"v":0.014},{"t":2.05,"v":0.01},{"t":2.06,"v":0.02},{"t":2.07,"v":0.012},{"t":2.08,"v":0.022},{"t":2.09,"v":0.014},{"t":2.1,"v":0.02},{"t":2.11,"v":0.012},{"t":2.12,"v":0.018},{"t":2.125,"v":0.063},{"t":2.13,"v":0.01},{"t":2.14,"v":0.004},{"t":2.15,"v":-0.004},{"t":2.16,"v":0.01},{"t":2.17,"v":0.0},{"t":2.175,"v":0.047},{"t":2.18,"v":0.004},{"t":2.19,"v":-0.008},{"t":2.2,"v":0.008},{"t":2.21,"v":-0.004},{"t":2.22,"v":0.012},{"t":2.23,"v":-0.01},{"t":2.24,"v":0.006},{"t":2.25,"v":-0.002},{"t":2.26,"v":0.01},{"t":2.27,"v":-0.012},{"t":2.28,"v":0.004},{"t":2.29,"v":-0.006},{"t":2.3,"v":0.008},
      {"t":2.31,"v":0.3},{"t":2.315,"v":0.04},{"t":2.32,"v":0.02},{"t":2.33,"v":0.035},{"t":2.335,"v":0.3},{"t":2.34,"v":0.045},{"t":2.35,"v":0.025},{"t":2.36,"v":0.3},{"t":2.365,"v":0.05},{"t":2.375,"v":0.02},{"t":2.385,"v":0.3},{"t":2.39,"v":0.05},{"t":2.4,"v":0.025},{"t":2.41,"v":0.3},{"t":2.415,"v":0.055},{"t":2.425,"v":0.015},{"t":2.435,"v":0.3},{"t":2.44,"v":0.045},{"t":2.45,"v":0.01},{"t":2.455,"v":0.035},{"t":2.465,"v":0.3},{"t":2.47,"v":0.05},{"t":2.48,"v":0.01},{"t":2.49,"v":0.3},{"t":2.495,"v":0.04},{"t":2.5,"v":0.015},{"t":2.51,"v":0.3},{"t":2.515,"v":0.06},{"t":2.52,"v":0.035},{"t":2.53,"v":0.045},{"t":2.535,"v":0.01},{"t":2.54,"v":0.04},{"t":2.545,"v":0.02},{"t":2.555,"v":0.3},{"t":2.56,"v":0.1},{"t":2.565,"v":0.06},{"t":2.57,"v":0.04},{"t":2.575,"v":0.015},{"t":2.58,"v":0.045},{"t":2.585,"v":0.01},{"t":2.59,"v":0.04},{"t":2.595,"v":0.025},{"t":2.605,"v":0.3},{"t":2.61,"v":0.09},{"t":2.615,"v":0.06},{"t":2.62,"v":0.045},{"t":2.625,"v":0.03},{"t":2.63,"v":0.045},{"t":2.635,"v":0.025},{"t":2.64,"v":0.04},{"t":2.645,"v":0.02},{"t":2.655,"v":0.3},{"t":2.66,"v":0.1},{"t":2.665,"v":0.065},{"t":2.67,"v":0.05},{"t":2.675,"v":0.035},{"t":2.68,"v":0.05},{"t":2.685,"v":0.03},{"t":2.69,"v":0.045},{"t":2.695,"v":0.025},{"t":2.7,"v":0.04},{"t":2.705,"v":0.02},{"t":2.71,"v":0.045},{"t":2.715,"v":0.025},{"t":2.72,"v":0.04},{"t":2.725,"v":0.03},{"t":2.74,"v":0.3},{"t":2.745,"v":0.12},{"t":2.75,"v":0.08},{"t":2.755,"v":0.06},{"t":2.76,"v":0.05},{"t":2.765,"v":0.035},{"t":2.77,"v":0.05},{"t":2.775,"v":0.03},{"t":2.78,"v":0.045},{"t":2.785,"v":0.025},{"t":2.79,"v":0.04},{"t":2.795,"v":0.03},{"t":2.8,"v":0.045},{"t":2.805,"v":0.025},{"t":2.81,"v":0.04},{"t":2.815,"v":0.03},{"t":2.825,"v":0.045},{"t":2.835,"v":0.3},{"t":2.84,"v":0.17},{"t":2.85,"v":0.12},{"t":2.86,"v":0.085},{"t":2.87,"v":0.065},{"t":2.875,"v":0.05},{"t":2.88,"v":0.06},{"t":2.885,"v":0.04},{"t":2.89,"v":0.055},{"t":2.895,"v":0.035},{"t":2.9,"v":0.05},{"t":2.905,"v":0.03},{"t":2.91,"v":0.045},{"t":2.915,"v":0.035},{"t":2.925,"v":0.3},{"t":2.93,"v":0.19},{"t":2.94,"v":0.16},{"t":2.95,"v":0.13},{"t":2.96,"v":0.11},{"t":2.97,"v":0.095},{"t":2.98,"v":0.085},{"t":2.99,"v":0.076},{"t":3.0,"v":0.07}
    ]
  },
  "vconcat": [
    {
      "width": 570, "height": 197,
      "title": {"text": "shot 84682 discharge parameters", "font": "DejaVu Sans", "fontSize": 31, "fontWeight": "normal", "color": "#333", "anchor": "middle", "frame": "group", "baseline": "alphabetic", "offset": -21},
      "resolve": {"axis": {"x": "independent", "y": "independent"}},
      "layer": [
        {"data": {"name": "ip"}, "mark": {"type": "line", "clip": true, "color": "#000", "strokeWidth": 1},
         "encoding": {
           "x": {"field": "t", "type": "quantitative", "scale": {"domain": [0, 3], "nice": false, "zero": false},
                 "axis": {"orient": "bottom", "values": [0,0.1,0.2,0.3,0.4,0.5,0.6,0.7,0.8,0.9,1,1.1,1.2,1.3,1.4,1.5,1.6,1.7,1.8,1.9,2,2.1,2.2,2.3,2.4,2.5,2.6,2.7,2.8,2.9,3], "tickSize": {"condition": {"test": "datum.value % 1 === 0", "value": -10}, "value": -5}, "labels": false, "title": null}},
           "y": {"field": "v", "type": "quantitative", "scale": {"domain": [-0.16, 2], "nice": false, "zero": false},
                 "axis": {"orient": "left", "values": [-0.1,0,0.1,0.2,0.3,0.4,0.5,0.6,0.7,0.8,0.9,1,1.1,1.2,1.3,1.4,1.5,1.6,1.7,1.8,1.9,2], "tickSize": {"condition": {"test": "abs(datum.value*2-round(datum.value*2))<1e-6", "value": -11}, "value": -6}, "labelExpr": "abs(datum.value*2-round(datum.value*2))<1e-6 ? format(datum.value, '.1f') : ''", "title": "ip - MA", "titlePadding": 23}}
         }},
        {"data": {"values": [{"t": 0.4, "v": 0.38}, {"t": 1.8, "v": 0.38}]}, "mark": {"type": "line", "color": "#ff2020", "strokeWidth": 1.2},
         "encoding": {
           "x": {"field": "t", "type": "quantitative", "scale": {"domain": [0, 3], "nice": false, "zero": false},
                 "axis": {"orient": "top", "values": [0,0.1,0.2,0.3,0.4,0.5,0.6,0.7,0.8,0.9,1,1.1,1.2,1.3,1.4,1.5,1.6,1.7,1.8,1.9,2,2.1,2.2,2.3,2.4,2.5,2.6,2.7,2.8,2.9,3], "tickSize": {"condition": {"test": "datum.value % 1 === 0", "value": -10}, "value": -5}, "labels": false, "title": null}},
           "y": {"field": "v", "type": "quantitative", "scale": {"domain": [-0.16, 2], "nice": false, "zero": false},
                 "axis": {"orient": "right", "values": [-0.1,0,0.1,0.2,0.3,0.4,0.5,0.6,0.7,0.8,0.9,1,1.1,1.2,1.3,1.4,1.5,1.6,1.7,1.8,1.9,2], "tickSize": {"condition": {"test": "abs(datum.value*2-round(datum.value*2))<1e-6", "value": -11}, "value": -6}, "labels": false, "title": null}}
         }},
        {"data": {"values": [{"t": 0.4, "v": 0.38}, {"t": 1.8, "v": 0.38}]}, "mark": {"type": "tick", "orient": "vertical", "color": "#ff2020", "size": 20, "thickness": 1.2},
         "encoding": {"x": {"field": "t", "type": "quantitative", "axis": null}, "y": {"field": "v", "type": "quantitative", "axis": null}}},
        {"data": {"values": [{}]}, "mark": {"type": "text", "font": "Liberation Mono", "fontSize": 28, "lineHeight": 33, "align": "left", "baseline": "alphabetic", "color": "#111"},
         "encoding": {"x": {"datum": 0.125, "type": "quantitative", "axis": null}, "y": {"datum": 1.618, "type": "quantitative", "axis": null}, "text": {"value": ["Plasma", "Current"]}}},
        {"data": {"values": [{}]}, "mark": {"type": "text", "font": "DejaVu Sans", "fontSize": 27, "align": "center", "baseline": "middle", "color": "#ff2020"},
         "encoding": {"x": {"datum": 1.25, "type": "quantitative", "axis": null}, "y": {"datum": 0.088, "type": "quantitative", "axis": null}, "text": {"value": "simulation"}}}
      ]
    },
    {
      "width": 570, "height": 197,
      "resolve": {"axis": {"x": "independent", "y": "independent"}},
      "layer": [
        {"data": {"name": "pinj"}, "mark": {"type": "line", "clip": true, "color": "#000", "strokeWidth": 1, "interpolate": "step-after"},
         "encoding": {
           "x": {"field": "t", "type": "quantitative", "scale": {"domain": [0, 3], "nice": false, "zero": false},
                 "axis": {"orient": "bottom", "values": [0,0.1,0.2,0.3,0.4,0.5,0.6,0.7,0.8,0.9,1,1.1,1.2,1.3,1.4,1.5,1.6,1.7,1.8,1.9,2,2.1,2.2,2.3,2.4,2.5,2.6,2.7,2.8,2.9,3], "tickSize": {"condition": {"test": "datum.value % 1 === 0", "value": -10}, "value": -5}, "labels": false, "title": null}},
           "y": {"field": "v", "type": "quantitative", "scale": {"domain": [-1.4, 15], "nice": false, "zero": false},
                 "axis": {"orient": "left", "values": [-1,0,1,2,3,4,5,6,7,8,9,10,11,12,13,14,15], "tickSize": {"condition": {"test": "datum.value % 5 === 0", "value": -11}, "value": -6}, "labelExpr": "datum.value % 5 === 0 ? format(datum.value, 'd') : ''", "title": "Pinj - MW", "titlePadding": 18}}
         }},
        {"data": {"values": [{"t": 0.4, "v": 2.7}, {"t": 1.8, "v": 2.7}]}, "mark": {"type": "line", "color": "#ff2020", "strokeWidth": 1.2},
         "encoding": {
           "x": {"field": "t", "type": "quantitative", "scale": {"domain": [0, 3], "nice": false, "zero": false},
                 "axis": {"orient": "top", "values": [0,0.1,0.2,0.3,0.4,0.5,0.6,0.7,0.8,0.9,1,1.1,1.2,1.3,1.4,1.5,1.6,1.7,1.8,1.9,2,2.1,2.2,2.3,2.4,2.5,2.6,2.7,2.8,2.9,3], "tickSize": {"condition": {"test": "datum.value % 1 === 0", "value": -10}, "value": -5}, "labels": false, "title": null}},
           "y": {"field": "v", "type": "quantitative", "scale": {"domain": [-1.4, 15], "nice": false, "zero": false},
                 "axis": {"orient": "right", "values": [-1,0,1,2,3,4,5,6,7,8,9,10,11,12,13,14,15], "tickSize": {"condition": {"test": "datum.value % 5 === 0", "value": -11}, "value": -6}, "labels": false, "title": null}}
         }},
        {"data": {"values": [{"t": 0.4, "v": 2.7}, {"t": 1.8, "v": 2.7}]}, "mark": {"type": "tick", "orient": "vertical", "color": "#ff2020", "size": 20, "thickness": 1.2},
         "encoding": {"x": {"field": "t", "type": "quantitative", "axis": null}, "y": {"field": "v", "type": "quantitative", "axis": null}}},
        {"data": {"values": [{}]}, "mark": {"type": "text", "font": "Liberation Mono", "fontSize": 28, "lineHeight": 33, "align": "left", "baseline": "alphabetic", "color": "#111"},
         "encoding": {"x": {"datum": 0.125, "type": "quantitative", "axis": null}, "y": {"datum": 11.99, "type": "quantitative", "axis": null}, "text": {"value": ["Injected", "Power"]}}}
      ]
    },
    {
      "width": 570, "height": 197,
      "resolve": {"axis": {"x": "independent", "y": "independent"}},
      "layer": [
        {"data": {"name": "ne"}, "mark": {"type": "line", "clip": true, "color": "#000", "strokeWidth": 1},
         "encoding": {
           "x": {"field": "t", "type": "quantitative", "scale": {"domain": [0, 3], "nice": false, "zero": false},
                 "axis": {"orient": "bottom", "values": [0,0.1,0.2,0.3,0.4,0.5,0.6,0.7,0.8,0.9,1,1.1,1.2,1.3,1.4,1.5,1.6,1.7,1.8,1.9,2,2.1,2.2,2.3,2.4,2.5,2.6,2.7,2.8,2.9,3], "tickSize": {"condition": {"test": "datum.value % 1 === 0", "value": -10}, "value": -5}, "labels": false, "title": null}},
           "y": {"field": "v", "type": "quantitative", "scale": {"domain": [-0.07, 1], "nice": false, "zero": false},
                 "axis": {"orient": "left", "values": [-0.05,0,0.05,0.1,0.15,0.2,0.25,0.3,0.35,0.4,0.45,0.5,0.55,0.6,0.65,0.7,0.75,0.8,0.85,0.9,0.95,1], "tickSize": {"condition": {"test": "abs(datum.value*5-round(datum.value*5))<1e-6", "value": -11}, "value": -6}, "labelExpr": "abs(datum.value*5-round(datum.value*5))<1e-6 ? format(datum.value, '.1f') : ''", "title": "tsne_10^20", "titlePadding": 43}}
         }},
        {"data": {"values": [{"t": 0.4, "v": 0.2}, {"t": 1.8, "v": 0.2}]}, "mark": {"type": "line", "color": "#ff2020", "strokeWidth": 1.2},
         "encoding": {
           "x": {"field": "t", "type": "quantitative", "scale": {"domain": [0, 3], "nice": false, "zero": false},
                 "axis": {"orient": "top", "values": [0,0.1,0.2,0.3,0.4,0.5,0.6,0.7,0.8,0.9,1,1.1,1.2,1.3,1.4,1.5,1.6,1.7,1.8,1.9,2,2.1,2.2,2.3,2.4,2.5,2.6,2.7,2.8,2.9,3], "tickSize": {"condition": {"test": "datum.value % 1 === 0", "value": -10}, "value": -5}, "labels": false, "title": null}},
           "y": {"field": "v", "type": "quantitative", "scale": {"domain": [-0.07, 1], "nice": false, "zero": false},
                 "axis": {"orient": "right", "values": [-0.05,0,0.05,0.1,0.15,0.2,0.25,0.3,0.35,0.4,0.45,0.5,0.55,0.6,0.65,0.7,0.75,0.8,0.85,0.9,0.95,1], "tickSize": {"condition": {"test": "abs(datum.value*5-round(datum.value*5))<1e-6", "value": -11}, "value": -6}, "labels": false, "title": null}}
         }},
        {"data": {"values": [{"t": 0.4, "v": 0.2}, {"t": 1.8, "v": 0.2}]}, "mark": {"type": "tick", "orient": "vertical", "color": "#ff2020", "size": 20, "thickness": 1.2},
         "encoding": {"x": {"field": "t", "type": "quantitative", "axis": null}, "y": {"field": "v", "type": "quantitative", "axis": null}}},
        {"data": {"values": [{}]}, "mark": {"type": "text", "font": "Liberation Mono", "fontSize": 28, "lineHeight": 33, "align": "left", "baseline": "alphabetic", "color": "#111"},
         "encoding": {"x": {"datum": 0.125, "type": "quantitative", "axis": null}, "y": {"datum": 0.85, "type": "quantitative", "axis": null}, "text": {"value": ["Thomson", "density"]}}}
      ]
    },
    {
      "width": 570, "height": 197,
      "resolve": {"axis": {"x": "independent", "y": "independent"}},
      "layer": [
        {"data": {"name": "te"}, "mark": {"type": "line", "clip": true, "color": "#000", "strokeWidth": 1},
         "encoding": {
           "x": {"field": "t", "type": "quantitative", "scale": {"domain": [0, 3], "nice": false, "zero": false},
                 "axis": {"orient": "bottom", "values": [0,0.1,0.2,0.3,0.4,0.5,0.6,0.7,0.8,0.9,1,1.1,1.2,1.3,1.4,1.5,1.6,1.7,1.8,1.9,2,2.1,2.2,2.3,2.4,2.5,2.6,2.7,2.8,2.9,3], "tickSize": {"condition": {"test": "datum.value % 1 === 0", "value": -10}, "value": -5}, "labels": false, "title": null}},
           "y": {"field": "v", "type": "quantitative", "scale": {"domain": [-0.6, 8], "nice": false, "zero": false},
                 "axis": {"orient": "left", "values": [-0.5,0,0.5,1,1.5,2,2.5,3,3.5,4,4.5,5,5.5,6,6.5,7,7.5,8], "tickSize": {"condition": {"test": "datum.value % 2 === 0", "value": -11}, "value": -6}, "labelExpr": "datum.value % 2 === 0 ? format(datum.value, 'd') : ''", "title": "tste_keV", "titlePadding": 33}}
         }},
        {"data": {"values": [{"t": 0.4, "v": 1.54}, {"t": 1.8, "v": 1.54}]}, "mark": {"type": "line", "color": "#ff2020", "strokeWidth": 1.2},
         "encoding": {
           "x": {"field": "t", "type": "quantitative", "scale": {"domain": [0, 3], "nice": false, "zero": false},
                 "axis": {"orient": "top", "values": [0,0.1,0.2,0.3,0.4,0.5,0.6,0.7,0.8,0.9,1,1.1,1.2,1.3,1.4,1.5,1.6,1.7,1.8,1.9,2,2.1,2.2,2.3,2.4,2.5,2.6,2.7,2.8,2.9,3], "tickSize": {"condition": {"test": "datum.value % 1 === 0", "value": -10}, "value": -5}, "labels": false, "title": null}},
           "y": {"field": "v", "type": "quantitative", "scale": {"domain": [-0.6, 8], "nice": false, "zero": false},
                 "axis": {"orient": "right", "values": [-0.5,0,0.5,1,1.5,2,2.5,3,3.5,4,4.5,5,5.5,6,6.5,7,7.5,8], "tickSize": {"condition": {"test": "datum.value % 2 === 0", "value": -11}, "value": -6}, "labels": false, "title": null}}
         }},
        {"data": {"values": [{"t": 0.4, "v": 1.54}, {"t": 1.8, "v": 1.54}]}, "mark": {"type": "tick", "orient": "vertical", "color": "#ff2020", "size": 20, "thickness": 1.2},
         "encoding": {"x": {"field": "t", "type": "quantitative", "axis": null}, "y": {"field": "v", "type": "quantitative", "axis": null}}},
        {"data": {"values": [{}]}, "mark": {"type": "text", "font": "Liberation Mono", "fontSize": 28, "lineHeight": 33, "align": "left", "baseline": "alphabetic", "color": "#111"},
         "encoding": {"x": {"datum": 0.115, "type": "quantitative", "axis": null}, "y": {"datum": 6.76, "type": "quantitative", "axis": null}, "text": {"value": ["Thomson", "temperature"]}}}
      ]
    },
    {
      "width": 570, "height": 197,
      "resolve": {"axis": {"x": "independent", "y": "independent"}},
      "layer": [
        {"data": {"name": "vis"}, "mark": {"type": "line", "clip": true, "color": "#000", "strokeWidth": 1},
         "encoding": {
           "x": {"field": "t", "type": "quantitative", "scale": {"domain": [0, 3], "nice": false, "zero": false},
                 "axis": {"orient": "bottom", "values": [0,0.1,0.2,0.3,0.4,0.5,0.6,0.7,0.8,0.9,1,1.1,1.2,1.3,1.4,1.5,1.6,1.7,1.8,1.9,2,2.1,2.2,2.3,2.4,2.5,2.6,2.7,2.8,2.9,3], "tickSize": {"condition": {"test": "datum.value % 1 === 0", "value": -10}, "value": -5}, "labelExpr": "datum.value % 1 === 0 ? format(datum.value, 'd') : ''", "labelPadding": 15, "title": "time - sec", "titleFont": "Liberation Mono", "titleFontSize": 34, "titleColor": "#222", "titlePadding": 2}},
           "y": {"field": "v", "type": "quantitative", "scale": {"domain": [-0.07, 0.2], "nice": false, "zero": false},
                 "axis": {"orient": "left", "values": [-0.06,-0.05,-0.04,-0.03,-0.02,-0.01,0,0.01,0.02,0.03,0.04,0.05,0.06,0.07,0.08,0.09,0.1,0.11,0.12,0.13,0.14,0.15,0.16,0.17,0.18,0.19,0.2], "tickSize": {"condition": {"test": "abs(datum.value*20-round(datum.value*20))<1e-6", "value": -11}, "value": -6}, "labelExpr": "abs(datum.value*20-round(datum.value*20))<1e-6 ? format(datum.value, '.2f') : ''", "title": "phd04 1e16", "titlePadding": 28}}
         }},
        {"data": {"values": [{"t": 0.4, "v": -0.004}, {"t": 1.8, "v": -0.004}]}, "mark": {"type": "line", "color": "#ff2020", "strokeWidth": 1.2},
         "encoding": {
           "x": {"field": "t", "type": "quantitative", "scale": {"domain": [0, 3], "nice": false, "zero": false},
                 "axis": {"orient": "top", "values": [0,0.1,0.2,0.3,0.4,0.5,0.6,0.7,0.8,0.9,1,1.1,1.2,1.3,1.4,1.5,1.6,1.7,1.8,1.9,2,2.1,2.2,2.3,2.4,2.5,2.6,2.7,2.8,2.9,3], "tickSize": {"condition": {"test": "datum.value % 1 === 0", "value": -10}, "value": -5}, "labels": false, "title": null}},
           "y": {"field": "v", "type": "quantitative", "scale": {"domain": [-0.07, 0.2], "nice": false, "zero": false},
                 "axis": {"orient": "right", "values": [-0.06,-0.05,-0.04,-0.03,-0.02,-0.01,0,0.01,0.02,0.03,0.04,0.05,0.06,0.07,0.08,0.09,0.1,0.11,0.12,0.13,0.14,0.15,0.16,0.17,0.18,0.19,0.2], "tickSize": {"condition": {"test": "abs(datum.value*20-round(datum.value*20))<1e-6", "value": -11}, "value": -6}, "labels": false, "title": null}}
         }},
        {"data": {"values": [{"t": 0.4, "v": -0.004}, {"t": 1.8, "v": -0.004}]}, "mark": {"type": "tick", "orient": "vertical", "color": "#ff2020", "size": 20, "thickness": 1.2},
         "encoding": {"x": {"field": "t", "type": "quantitative", "axis": null}, "y": {"field": "v", "type": "quantitative", "axis": null}}},
        {"data": {"values": [{}]}, "mark": {"type": "text", "font": "Liberation Mono", "fontSize": 28, "lineHeight": 33, "align": "left", "baseline": "alphabetic", "color": "#111"},
         "encoding": {"x": {"datum": 0.125, "type": "quantitative", "axis": null}, "y": {"datum": 0.166, "type": "quantitative", "axis": null}, "text": {"value": ["Visible", "light"]}}}
      ]
    }
  ]
}
